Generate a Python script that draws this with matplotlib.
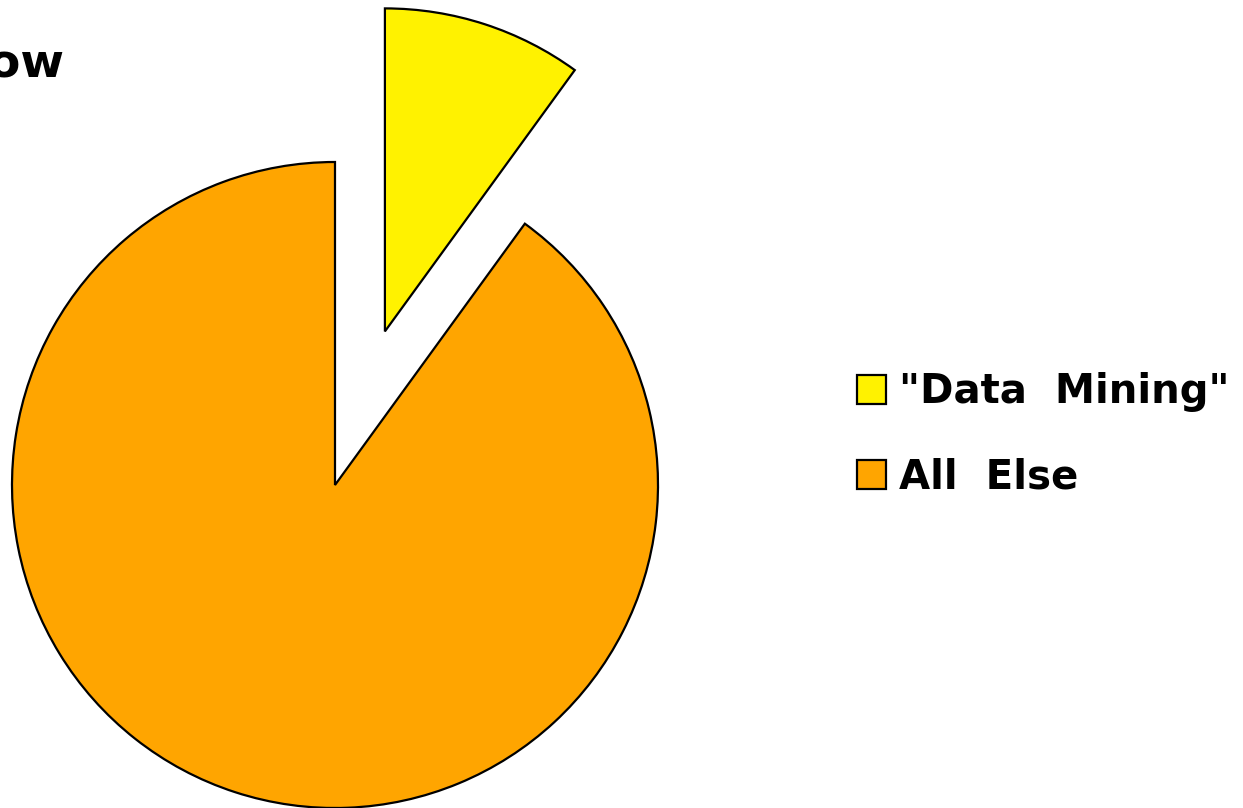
import matplotlib
matplotlib.use("Agg")
import matplotlib.pyplot as plt
from matplotlib.patches import Patch

labels = ['"Data  Mining"', "All  Else"]
shares = [10, 90]
colors = ["#FFF200", "#FFA500"]
explode = [0.5, 0.0]

W, H = 1243, 808
R = 323.0  # pie radius in pixels
cx, cy = 335.0, 485.0  # pie centre in pixels (from top)

fig = plt.figure(figsize=(W / 100, H / 100), dpi=100)
ax = fig.add_axes([0, 0, 1, 1])
ax.pie(shares, colors=colors, explode=explode, startangle=90, counterclock=False,
       wedgeprops=dict(edgecolor="black", linewidth=1.6))
ax.set_xlim(-cx / R, (W - cx) / R)
ax.set_ylim(-(H - cy) / R, cy / R)
ax.set_aspect("equal")
ax.axis("off")

handles = [Patch(facecolor=c, edgecolor="black", linewidth=1.6) for c in colors]
fig.legend(handles, labels, loc="center left", bbox_to_anchor=(837 / W, 1 - 435 / H),
           frameon=False, handlelength=0.72, handleheight=0.72,
           handletextpad=0.33, labelspacing=1.12, borderpad=0,
           prop=dict(family="DejaVu Sans", weight="bold", size=29))

fig.text(-12 / W, 1 - 65 / H, "ow", family="DejaVu Sans", weight="bold", size=34,
         ha="left", va="center")

fig.savefig("out.png", dpi=100)
